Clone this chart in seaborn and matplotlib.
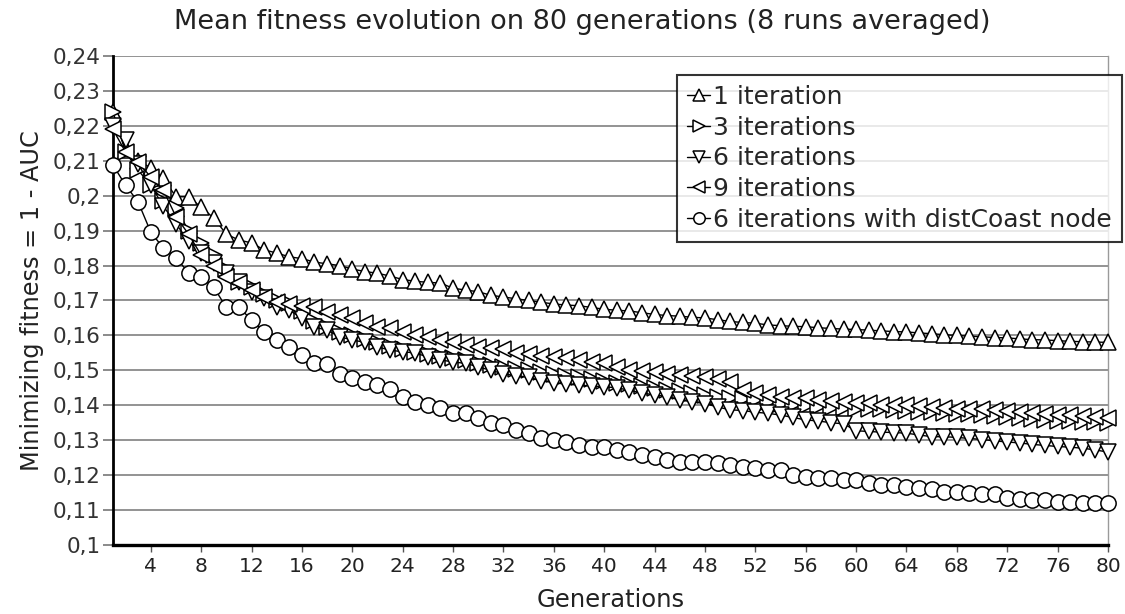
import numpy as np
import pandas as pd
import matplotlib
matplotlib.use("Agg")
import matplotlib.pyplot as plt
import seaborn as sns

generations = list(range(1, 81))

iter1 = [0.224, 0.213, 0.210, 0.208, 0.205, 0.1997, 0.1997, 0.1967, 0.1936, 0.189,
         0.1873, 0.1865, 0.1845, 0.1836, 0.1825, 0.182, 0.181, 0.1805, 0.180, 0.179,
         0.1783, 0.1778, 0.177, 0.176, 0.1755, 0.1752, 0.175, 0.1735, 0.173, 0.1725,
         0.1715, 0.171, 0.1705, 0.170, 0.1695, 0.169, 0.1687, 0.1685, 0.168, 0.1675,
         0.1672, 0.167, 0.1665, 0.166, 0.1657, 0.1655, 0.1652, 0.165, 0.1645, 0.164,
         0.1637, 0.1635, 0.163, 0.1628, 0.1626, 0.1625, 0.1622, 0.162, 0.1618, 0.1617,
         0.1615, 0.1613, 0.1611, 0.161, 0.1607, 0.1605, 0.1602, 0.160, 0.1598, 0.1596,
         0.1594, 0.1593, 0.159, 0.1588, 0.1587, 0.1585, 0.1583, 0.1582, 0.1581, 0.158]

iter3 = [0.224, 0.2125, 0.2073, 0.203, 0.1985, 0.1965, 0.190, 0.1865, 0.183, 0.179,
         0.1753, 0.174, 0.172, 0.170, 0.1693, 0.167, 0.164, 0.1625, 0.161, 0.160,
         0.159, 0.158, 0.157, 0.156, 0.1553, 0.1547, 0.154, 0.1535, 0.153, 0.152,
         0.1515, 0.151, 0.1505, 0.150, 0.1495, 0.149, 0.1485, 0.148, 0.1475, 0.147,
         0.1465, 0.146, 0.1455, 0.145, 0.1445, 0.144, 0.1435, 0.143, 0.1425, 0.142,
         0.1418, 0.1415, 0.141, 0.1405, 0.140, 0.1398, 0.1395, 0.1392, 0.1391, 0.139,
         0.139, 0.1388, 0.1386, 0.1385, 0.1382, 0.138, 0.1378, 0.1376, 0.1374, 0.1372,
         0.137, 0.1367, 0.1364, 0.1361, 0.1358, 0.1356, 0.1354, 0.1352, 0.1351, 0.135]

iter6 = [0.220, 0.216, 0.209, 0.203, 0.197, 0.192, 0.187, 0.1835, 0.1807, 0.178,
         0.1753, 0.1725, 0.1707, 0.168, 0.1672, 0.165, 0.1624, 0.1615, 0.1596, 0.1587,
         0.158, 0.1567, 0.1558, 0.1553, 0.155, 0.1538, 0.153, 0.1524, 0.152, 0.151,
         0.150, 0.149, 0.1485, 0.148, 0.147, 0.1465, 0.146, 0.1458, 0.1455, 0.1453,
         0.145, 0.1443, 0.1435, 0.143, 0.1425, 0.1415, 0.141, 0.1405, 0.1395, 0.1387,
         0.1385, 0.138, 0.1377, 0.1372, 0.1365, 0.1358, 0.1355, 0.135, 0.1347, 0.1327,
         0.1325, 0.1323, 0.1322, 0.132, 0.1315, 0.131, 0.131, 0.1308, 0.1305, 0.1302,
         0.1298, 0.1295, 0.1292, 0.1288, 0.1285, 0.1282, 0.128, 0.1277, 0.1272, 0.1266]

iter9 = [0.219, 0.2125, 0.2097, 0.2053, 0.2016, 0.194, 0.189, 0.183, 0.180, 0.1767,
         0.175, 0.173, 0.171, 0.1696, 0.169, 0.1685, 0.168, 0.1667, 0.1658, 0.165,
         0.1635, 0.1624, 0.162, 0.161, 0.160, 0.1596, 0.1587, 0.158, 0.1573, 0.1567,
         0.1564, 0.156, 0.155, 0.1547, 0.1542, 0.1538, 0.1535, 0.153, 0.1523, 0.152,
         0.151, 0.150, 0.1497, 0.1494, 0.149, 0.1487, 0.1483, 0.148, 0.1474, 0.1467,
         0.1445, 0.1435, 0.143, 0.1425, 0.1422, 0.142, 0.1415, 0.1412, 0.1408, 0.1407,
         0.1406, 0.1402, 0.140, 0.140, 0.1397, 0.1395, 0.1393, 0.139, 0.139, 0.1388,
         0.1387, 0.1385, 0.138, 0.1378, 0.1375, 0.1373, 0.1372, 0.1368, 0.1365, 0.1363]

iter6_dist = [0.2088, 0.203, 0.1982, 0.1896, 0.185, 0.1822, 0.178, 0.1767, 0.1738, 0.168,
              0.168, 0.1645, 0.161, 0.1587, 0.1567, 0.1545, 0.152, 0.1517, 0.149, 0.1478,
              0.1467, 0.1458, 0.1446, 0.1424, 0.141, 0.140, 0.1392, 0.1377, 0.1377, 0.1363,
              0.135, 0.1343, 0.133, 0.132, 0.1306, 0.130, 0.1295, 0.1286, 0.128, 0.128,
              0.1272, 0.1266, 0.1258, 0.1252, 0.1243, 0.1238, 0.1238, 0.1238, 0.1235, 0.123,
              0.1224, 0.122, 0.1215, 0.1215, 0.120, 0.1195, 0.1192, 0.1192, 0.1186, 0.1186,
              0.1178, 0.1172, 0.1172, 0.1166, 0.1163, 0.116, 0.1152, 0.1152, 0.115, 0.1147,
              0.1145, 0.1135, 0.1133, 0.113, 0.1128, 0.1123, 0.1122, 0.112, 0.112, 0.112]

series_labels = ["1 iteration", "3 iterations", "6 iterations", "9 iterations",
                 "6 iterations with distCoast node"]
series_markers = ["^", ">", "v", "<", "o"]
series_values = [iter1, iter3, iter6, iter9, iter6_dist]

xticks = list(range(4, 81, 4))
yticks = [0.10, 0.11, 0.12, 0.13, 0.14, 0.15, 0.16, 0.17, 0.18, 0.19, 0.20, 0.21, 0.22, 0.23, 0.24]
ytick_labels = ["0,1", "0,11", "0,12", "0,13", "0,14", "0,15", "0,16", "0,17", "0,18",
                "0,19", "0,2", "0,21", "0,22", "0,23", "0,24"]

title = "Mean fitness evolution on 80 generations (8 runs averaged)"
xlabel = "Generations"
ylabel = "Minimizing fitness = 1 - AUC"

sns.set_style("white")
plt.rcParams['font.family'] = ['DejaVu Sans']

fig = plt.figure(figsize=(11.25, 6.14), dpi=100)
ax = fig.add_axes([0.1004, 0.1124, 0.8845, 0.7964])

for lab, mk, vals in zip(series_labels, series_markers, series_values):
    df = pd.DataFrame({"gen": generations, "val": vals})
    sns.lineplot(data=df, x="gen", y="val", ax=ax, color="black", linewidth=1.0,
                 marker=mk, markersize=11, markerfacecolor="white",
                 markeredgecolor="black", markeredgewidth=1.1, label=lab,
                 clip_on=False, zorder=3)

ax.set_xlim(1, 80)
ax.set_ylim(0.10, 0.24)
ax.set_xticks(xticks)
ax.set_xticklabels([str(t) for t in xticks], fontsize=14.5, color="#222222",
                   family=["Liberation Sans Narrow", "DejaVu Sans"])
ax.set_yticks(yticks)
ax.set_yticklabels(ytick_labels, fontsize=15.5, color="#333333")
ax.tick_params(axis="y", which="major", length=7, width=1.2, color="#777777",
               direction="out", left=True, pad=2)
ax.tick_params(axis="x", which="major", length=5, width=1.0, color="#555555",
               direction="out", bottom=True, pad=4)

ax.yaxis.grid(True, color="#8a8a8a", linewidth=1.3, zorder=0)
ax.xaxis.grid(False)
ax.set_axisbelow(True)

ax.spines["left"].set_color("black")
ax.spines["left"].set_linewidth(2.0)
ax.spines["bottom"].set_color("black")
ax.spines["bottom"].set_linewidth(2.4)
ax.spines["right"].set_color("#9a9a9a")
ax.spines["right"].set_linewidth(1.0)
ax.spines["top"].set_visible(False)

ax.set_xlabel(xlabel, fontsize=17.5, color="#222222", labelpad=8)
ax.set_ylabel(ylabel, fontsize=17.3, color="#222222", labelpad=6)
fig.text(0.518, 0.964, title, ha="center", va="center", fontsize=19.5, color="#222222")

leg = ax.legend(loc="upper right", bbox_to_anchor=(0.997, 0.878),
                bbox_transform=fig.transFigure, frameon=True, fancybox=False,
                fontsize=18, handlelength=0.95, handletextpad=0.1,
                borderpad=0.4, labelspacing=0.27, borderaxespad=0.0,
                markerscale=0.75)
leg.get_frame().set_edgecolor("black")
leg.get_frame().set_linewidth(1.5)
leg.set_zorder(5)

fig.savefig("out.png", dpi=100)
